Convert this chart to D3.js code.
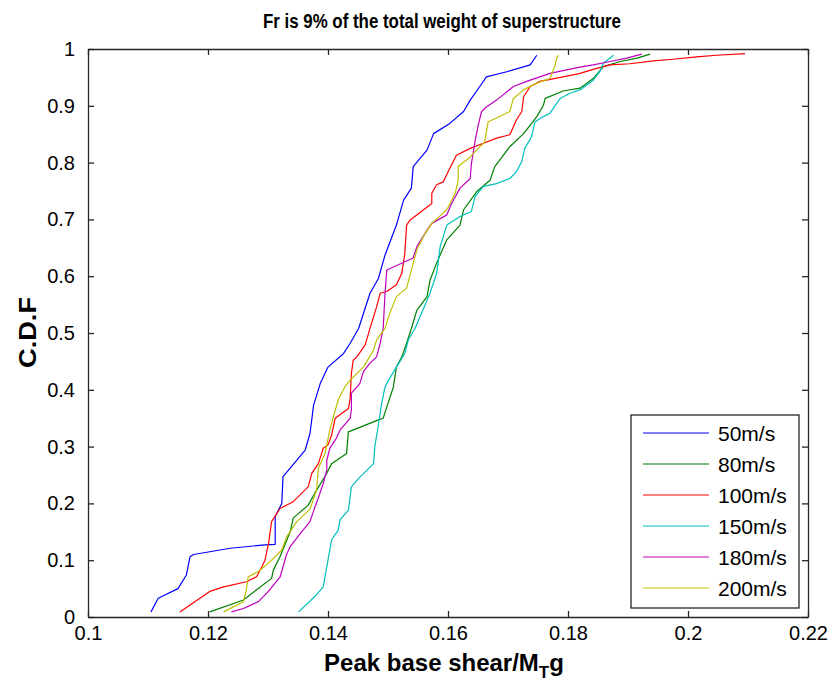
<!DOCTYPE html>
<html>
<head>
<meta charset="utf-8">
<script src="https://cdn.jsdelivr.net/npm/d3@7"></script>
<style>
body{margin:0;background:#fff;}
svg{display:block;font-family:"Liberation Sans",Arial,sans-serif;}
</style>
</head>
<body>
<svg id="chart" width="836" height="685"></svg>
<script>
const title = "Fr is 9% of the total weight of superstructure";
const seriesNames = ["50m/s","80m/s","100m/s","150m/s","180m/s","200m/s"];
const seriesColors = ["#0000ff","#008000","#ff0000","#00bfbf","#bf00bf","#bfbf00"];
const xTicks = [0.1,0.12,0.14,0.16,0.18,0.2,0.22];
const xTickLabels = ["0.1","0.12","0.14","0.16","0.18","0.2","0.22"];
const yTicks = [0,0.1,0.2,0.3,0.4,0.5,0.6,0.7,0.8,0.9,1];
const yTickLabels = ["0","0.1","0.2","0.3","0.4","0.5","0.6","0.7","0.8","0.9","1"];

const s50 = [[0.1105,0.009],[0.1117,0.033],[0.1150,0.050],[0.1164,0.074],[0.1170,0.106],[0.1176,0.110],[0.1237,0.121],[0.1295,0.127],[0.1312,0.128],[0.1312,0.177],[0.1323,0.200],[0.1325,0.247],[0.1337,0.262],[0.1362,0.294],[0.1370,0.323],[0.1376,0.373],[0.1387,0.411],[0.1400,0.440],[0.1426,0.464],[0.1437,0.482],[0.1451,0.508],[0.1470,0.570],[0.1484,0.596],[0.1495,0.637],[0.1514,0.690],[0.1526,0.734],[0.1539,0.755],[0.1542,0.793],[0.1565,0.822],[0.1576,0.851],[0.1603,0.869],[0.1626,0.890],[0.1637,0.910],[0.1653,0.934],[0.1664,0.951],[0.1698,0.960],[0.1737,0.972],[0.1748,0.989]];
const s80 = [[0.1203,0.009],[0.1259,0.030],[0.1281,0.048],[0.1306,0.068],[0.1309,0.083],[0.1320,0.106],[0.1337,0.150],[0.1342,0.174],[0.1367,0.197],[0.1378,0.218],[0.1398,0.253],[0.1406,0.270],[0.1431,0.288],[0.1434,0.326],[0.1484,0.347],[0.1492,0.350],[0.1498,0.370],[0.1509,0.405],[0.1514,0.440],[0.1523,0.458],[0.1531,0.482],[0.1539,0.508],[0.1548,0.540],[0.1565,0.564],[0.1570,0.593],[0.1581,0.623],[0.1598,0.664],[0.1620,0.690],[0.1626,0.717],[0.1648,0.749],[0.1670,0.769],[0.1678,0.793],[0.1703,0.828],[0.1726,0.851],[0.1748,0.881],[0.1759,0.901],[0.1762,0.913],[0.1792,0.926],[0.1820,0.931],[0.1842,0.948],[0.1859,0.969],[0.1887,0.978],[0.1915,0.984],[0.1937,0.991]];
const s100 = [[0.1153,0.009],[0.1203,0.045],[0.1226,0.053],[0.1264,0.062],[0.1281,0.071],[0.1290,0.089],[0.1295,0.100],[0.1301,0.130],[0.1306,0.168],[0.1320,0.191],[0.1342,0.203],[0.1367,0.229],[0.1373,0.253],[0.1384,0.270],[0.1392,0.297],[0.1400,0.303],[0.1406,0.320],[0.1412,0.350],[0.1434,0.367],[0.1437,0.385],[0.1439,0.429],[0.1442,0.452],[0.1448,0.458],[0.1462,0.479],[0.1470,0.508],[0.1481,0.546],[0.1487,0.570],[0.1498,0.573],[0.1514,0.585],[0.1523,0.605],[0.1528,0.640],[0.1531,0.690],[0.1537,0.699],[0.1573,0.728],[0.1573,0.746],[0.1581,0.761],[0.1592,0.766],[0.1603,0.790],[0.1614,0.813],[0.1637,0.825],[0.1659,0.834],[0.1681,0.843],[0.1703,0.849],[0.1709,0.863],[0.1714,0.875],[0.1723,0.890],[0.1726,0.916],[0.1737,0.934],[0.1753,0.943],[0.1792,0.951],[0.1820,0.957],[0.1842,0.964],[0.1870,0.972],[0.1903,0.974],[0.1942,0.979],[0.1975,0.982],[0.2014,0.986],[0.2048,0.989],[0.2095,0.992]];
const s150 = [[0.1351,0.009],[0.1378,0.036],[0.1392,0.053],[0.1400,0.100],[0.1406,0.136],[0.1417,0.153],[0.1420,0.171],[0.1434,0.188],[0.1439,0.229],[0.1451,0.244],[0.1476,0.270],[0.1478,0.300],[0.1484,0.338],[0.1489,0.373],[0.1495,0.405],[0.1501,0.417],[0.1514,0.440],[0.1528,0.464],[0.1534,0.488],[0.1545,0.508],[0.1570,0.570],[0.1581,0.605],[0.1587,0.652],[0.1598,0.690],[0.1620,0.705],[0.1639,0.714],[0.1645,0.740],[0.1659,0.758],[0.1681,0.763],[0.1703,0.772],[0.1714,0.784],[0.1723,0.802],[0.1728,0.825],[0.1739,0.845],[0.1745,0.872],[0.1759,0.881],[0.1770,0.887],[0.1787,0.913],[0.1803,0.922],[0.1820,0.928],[0.1842,0.945],[0.1853,0.960],[0.1859,0.975],[0.1876,0.989]];
const s180 = [[0.1239,0.009],[0.1259,0.015],[0.1284,0.027],[0.1295,0.039],[0.1303,0.048],[0.1320,0.070],[0.1331,0.110],[0.1337,0.124],[0.1356,0.150],[0.1370,0.168],[0.1377,0.190],[0.1384,0.210],[0.1392,0.235],[0.1398,0.259],[0.1398,0.276],[0.1403,0.297],[0.1414,0.315],[0.1420,0.329],[0.1437,0.350],[0.1439,0.365],[0.1439,0.394],[0.1453,0.411],[0.1459,0.432],[0.1470,0.447],[0.1481,0.458],[0.1487,0.482],[0.1492,0.508],[0.1495,0.570],[0.1498,0.611],[0.1542,0.632],[0.1548,0.652],[0.1565,0.681],[0.1573,0.693],[0.1598,0.708],[0.1606,0.728],[0.1620,0.755],[0.1637,0.772],[0.1639,0.798],[0.1645,0.837],[0.1651,0.869],[0.1656,0.890],[0.1664,0.898],[0.1681,0.910],[0.1709,0.934],[0.1731,0.943],[0.1753,0.951],[0.1770,0.957],[0.1792,0.962],[0.1820,0.968],[0.1842,0.972],[0.1870,0.978],[0.1898,0.984],[0.1923,0.991]];
const s200 = [[0.1226,0.009],[0.1259,0.027],[0.1264,0.048],[0.1267,0.071],[0.1284,0.080],[0.1303,0.097],[0.1323,0.118],[0.1331,0.141],[0.1348,0.168],[0.1370,0.190],[0.1381,0.224],[0.1384,0.262],[0.1395,0.288],[0.1403,0.329],[0.1412,0.364],[0.1417,0.382],[0.1428,0.405],[0.1437,0.417],[0.1459,0.440],[0.1476,0.470],[0.1481,0.488],[0.1495,0.508],[0.1503,0.535],[0.1514,0.564],[0.1531,0.579],[0.1539,0.611],[0.1548,0.646],[0.1559,0.670],[0.1573,0.693],[0.1598,0.717],[0.1612,0.746],[0.1617,0.769],[0.1617,0.793],[0.1637,0.810],[0.1653,0.828],[0.1661,0.836],[0.1667,0.872],[0.1680,0.878],[0.1703,0.890],[0.1709,0.913],[0.1726,0.928],[0.1748,0.940],[0.1770,0.948],[0.1773,0.957],[0.1778,0.969],[0.1781,0.984],[0.1784,0.989]];
const seriesData = [s50,s80,s100,s150,s180,s200];

const svg = d3.select("#chart");
const L = 88, R = 808, T = 49, B = 617;
const x = d3.scaleLinear().domain([0.1,0.22]).range([L,R]);
const y = d3.scaleLinear().domain([0,1]).range([B,T]);

svg.append("rect").attr("x",L).attr("y",T).attr("width",R-L).attr("height",B-T).attr("fill","#fff");

const line = d3.line().x(d=>x(d[0])).y(d=>y(d[1]));
const g = svg.append("g");
seriesData.forEach((s,i)=>{
  g.append("path").attr("d",line(s)).attr("fill","none")
   .attr("stroke",seriesColors[i]).attr("stroke-width",1.2).attr("stroke-linejoin","round");
});

const axCol = "#262626";
const fmtX = d=>xTickLabels[xTicks.indexOf(d)];
const fmtY = d=>yTickLabels[yTicks.indexOf(d)];
const axB = svg.append("g").attr("transform",`translate(0,${B})`)
  .call(d3.axisBottom(x).tickValues(xTicks).tickFormat(fmtX).tickSizeInner(-6).tickSizeOuter(0).tickPadding(9));
const axT = svg.append("g").attr("transform",`translate(0,${T})`)
  .call(d3.axisTop(x).tickValues(xTicks).tickFormat("").tickSizeInner(-6).tickSizeOuter(0));
const axL = svg.append("g").attr("transform",`translate(${L},0)`)
  .call(d3.axisLeft(y).tickValues(yTicks).tickFormat(fmtY).tickSizeInner(-6).tickSizeOuter(0).tickPadding(13));
const axR = svg.append("g").attr("transform",`translate(${R},0)`)
  .call(d3.axisRight(y).tickValues(yTicks).tickFormat("").tickSizeInner(-6).tickSizeOuter(0));
[axB,axT,axL,axR].forEach(a=>{
  a.selectAll("path").attr("stroke",axCol).attr("stroke-width",1.3);
  a.selectAll("line").attr("stroke",axCol).attr("stroke-width",1.3);
  a.selectAll("text").attr("fill","#000").style("font-size","20px").style("font-family","'Liberation Sans',Arial,sans-serif");
});

// title
svg.append("text").attr("x",263).attr("y",28).attr("text-anchor","start")
  .attr("textLength",358).attr("lengthAdjust","spacingAndGlyphs")
  .style("font-size","20px").style("font-weight","bold").text(title);

// x label
const xl = svg.append("text").attr("x",444).attr("y",671).attr("text-anchor","middle")
  .style("font-size","24px").style("font-weight","bold");
xl.append("tspan").text("Peak base shear/M");
xl.append("tspan").attr("dy",7).style("font-size","17px").text("T");
xl.append("tspan").attr("dy",-7).text("g");

// y label
svg.append("text").attr("transform","translate(36,297) rotate(-90)").attr("text-anchor","end")
  .attr("textLength",71).attr("lengthAdjust","spacingAndGlyphs")
  .style("font-size","24px").style("font-weight","bold").text("C.D.F");

// legend
const lg = svg.append("g");
lg.append("rect").attr("x",631).attr("y",415).attr("width",168).attr("height",193)
  .attr("fill","#fff").attr("stroke",axCol).attr("stroke-width",1.3);
const ly = d3.scalePoint().domain(seriesNames).range([433,588]);
seriesNames.forEach((n,i)=>{
  lg.append("line").attr("x1",643).attr("x2",709).attr("y1",ly(n)).attr("y2",ly(n))
    .attr("stroke",seriesColors[i]).attr("stroke-width",1.2);
  lg.append("text").attr("x",718).attr("y",ly(n)+7.5).style("font-size","21px").text(n);
});
</script>
</body>
</html>
